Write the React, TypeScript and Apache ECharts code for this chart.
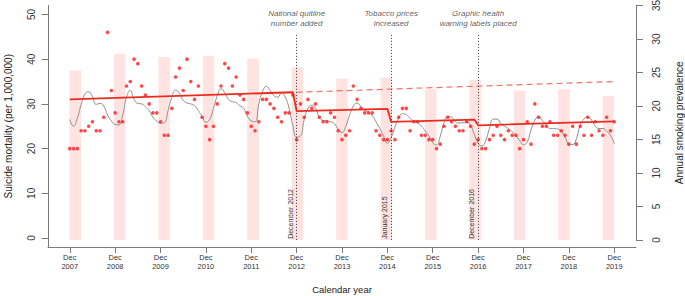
import React, { useEffect, useRef } from "react";
import * as echarts from "echarts";

// ---------- data ----------
const years = [2007, 2008, 2009, 2010, 2011, 2012, 2013, 2014, 2015, 2016, 2017, 2018, 2019];

// Annual smoking prevalence (right axis), one bar per year
const smokingPrevalence = [25.3, 27.8, 27.3, 27.5, 27.1, 25.8, 24.1, 24.2, 22.5, 23.9, 22.3, 22.5, 21.5];

// Monthly suicide mortality per 1,000,000, Dec 2007 .. Dec 2019 (145 months)
const suicideMonthly = [
  20, 20, 20, 24, 24, 25, 26, 24, 24, 27, 46, 33,
  28, 26, 26, 34, 35, 40, 39, 34, 32, 30, 28, 28,
  26, 23, 23, 29, 36, 38, 33, 40, 35, 31, 34, 27,
  25, 22, 25, 30, 34, 39, 38, 34, 36, 32, 31, 28,
  25, 24, 26, 31, 31, 30, 29, 27, 26, 28, 28, 32,
  22, 30, 27, 31, 29, 30, 27, 26, 26, 28, 27, 24,
  22, 23, 24, 34, 31, 29, 28, 28, 28, 24, 23, 22,
  22, 24, 22, 27, 29, 29, 24, 26, 26, 23, 23, 22,
  22, 20, 21, 25, 27, 26, 25, 24, 24, 26, 25, 21,
  22, 20, 20, 22, 23, 25, 23, 22, 24, 23, 23, 20,
  22, 26, 21, 30, 27, 25, 25, 26, 23, 23, 24, 23,
  21, 25, 21, 25, 23, 27, 23, 26, 24, 23, 27, 24, 26,
];

// Smoothed curve (grey), same months
const smoothCurve = [
  26.5, 25.0, 26.8, 29.8, 32.2, 32.7, 31.6, 29.9, 30.1, 29.5, 27.5, 26.2,
  25.4, 25.3, 27.5, 31.5, 33.0, 31.0, 30.1, 30.0, 29.4, 28.5, 27.0, 26.2,
  25.7, 25.8, 28.5, 31.5, 33.1, 32.4, 30.8, 30.2, 30.0, 29.6, 28.5, 27.2,
  25.9, 26.5, 29.0, 31.8, 33.4, 32.5, 31.0, 30.5, 30.3, 29.6, 29.0, 27.2,
  26.2, 26.0, 30.0, 32.8, 33.9, 33.0, 31.8, 31.5, 32.5, 31.5, 29.0, 25.2,
  22.6, 22.8, 26.5, 29.0, 29.7, 29.0, 27.0, 26.3, 26.2, 26.0, 25.6, 24.3,
  23.6, 25.0, 27.5, 29.5, 30.2, 29.4, 28.6, 28.2, 27.4, 26.0, 24.5, 22.8,
  21.2, 22.5, 24.8, 26.8, 27.8, 27.6, 26.8, 26.1, 25.8, 25.0, 24.0, 22.8,
  21.3, 20.8, 22.8, 25.8, 27.2, 27.0, 26.0, 25.7, 25.8, 25.9, 25.2, 23.2,
  21.2, 20.6, 21.8, 24.5, 26.6, 26.6, 25.6, 25.0, 24.5, 23.8, 23.0, 21.8,
  20.9, 21.5, 24.2, 26.3, 27.2, 26.3, 25.4, 24.5, 24.5, 24.4, 23.8, 22.6,
  21.0, 20.9, 22.2, 25.2, 26.6, 27.1, 26.4, 25.0, 24.5, 24.5, 23.9, 23.0, 21.1,
];

// Segmented regression fit: [month index, fitted value]
const segmentedFit = [
  [0, 31.0], [59, 32.6], [60, 28.4], [84, 28.9], [85, 26.0], [107, 26.5], [108, 25.2], [144, 26.1],
];
// Counterfactual (pre-intervention trend extended)
const counterfactual = [[60, 32.6], [144, 35.0]];

const interventionMonths = [60, 85, 108];
const interventionDates = ["December 2012", "January 2015", "December 2016"];
const interventionNotes = ["National quitline\nnumber added", "Tobacco prices\nincreased", "Graphic health\nwarning labels placed"];

const leftTicks = [0, 10, 20, 30, 40, 50];
const monthTicks = years.map((y) => (y - 2007) * 12);

// ---------- chart ----------
const FONT = "'Liberation Sans', Arial, Helvetica, sans-serif";
const AXIS_COLOR = "#7a7a7a";
const TEXT_COLOR = "#333";

export default function App() {
  const ref = useRef<HTMLDivElement>(null);

  useEffect(() => {
    if (!ref.current) return;
    const chart = echarts.init(ref.current, undefined, { renderer: "svg" });

    const xMin = -5.76;
    const xMax = 149.76;
    const barPos = (k: number) => 1.455 + 11.751 * k;
    const noteLevel = 49.1;
    const lineTop = 45.8;
    const lineBottom = -0.4;

    const markLineData: any[] = interventionMonths.map((m, i) => [
      {
        coord: [m, lineBottom],
        lineStyle: { type: [1, 2], color: "#333", width: 1 },
        label: {
          show: true,
          position: "insideStartTop",
          formatter: interventionDates[i],
          fontSize: 7,
          lineHeight: 7,
          color: TEXT_COLOR,
          fontFamily: FONT,
          distance: [1, 3],
        },
      },
      { coord: [m, lineTop] },
    ]);

    chart.setOption({
      animation: false,
      textStyle: { fontFamily: FONT },
      grid: [
        { left: 48, width: 588, top: 5.5, height: 241.5, outerBoundsMode: "none", containLabel: false },
        { left: 48, width: 588, top: 5.5, height: 234.5, outerBoundsMode: "none", containLabel: false },
      ],
      xAxis: [
        {
          type: "value",
          gridIndex: 0,
          min: xMin,
          max: xMax,
          position: "bottom",
          axisLine: { show: true, onZero: false, lineStyle: { color: AXIS_COLOR } },
          axisTick: { show: true, length: 6, customValues: monthTicks, lineStyle: { color: AXIS_COLOR } },
          axisLabel: {
            show: true,
            customValues: monthTicks,
            formatter: (v: number) => "Dec\n" + years[Math.round(v / 12)],
            fontSize: 7.5,
            lineHeight: 9,
            margin: 6,
            color: TEXT_COLOR,
            fontFamily: FONT,
          },
          splitLine: { show: false },
          name: "Calendar year",
          nameLocation: "middle",
          nameGap: 37,
          nameMoveOverlap: false,
          nameTextStyle: { fontSize: 9.5, color: "#222", fontFamily: FONT },
        },
        {
          type: "value",
          gridIndex: 1,
          min: xMin,
          max: xMax,
          show: false,
          axisLine: { show: false, onZero: false },
        },
      ],
      yAxis: [
        {
          type: "value",
          gridIndex: 0,
          position: "left",
          min: -2,
          max: 52,
          axisLine: { show: true, onZero: false, lineStyle: { color: AXIS_COLOR } },
          axisTick: { show: true, length: 6.5, customValues: leftTicks, lineStyle: { color: AXIS_COLOR } },
          axisLabel: {
            show: true,
            customValues: leftTicks,
            rotate: 90,
            margin: 17,
            align: "center",
            verticalAlign: "middle",
            fontSize: 10,
            color: TEXT_COLOR,
            fontFamily: FONT,
          },
          splitLine: { show: false },
          name: "Suicide mortality (per 1,000,000)",
          nameLocation: "middle",
          nameGap: 35,
          nameRotate: 90,
          nameMoveOverlap: false,
          nameTextStyle: { fontSize: 10, color: "#222", fontFamily: FONT },
        },
        {
          type: "value",
          gridIndex: 1,
          position: "right",
          min: 0,
          max: 35,
          interval: 5,
          axisLine: { show: true, onZero: false, lineStyle: { color: AXIS_COLOR } },
          axisTick: { show: true, length: 7, lineStyle: { color: AXIS_COLOR } },
          axisLabel: {
            show: true,
            rotate: 90,
            margin: 20,
            align: "center",
            verticalAlign: "middle",
            fontSize: 10,
            color: TEXT_COLOR,
            fontFamily: FONT,
          },
          splitLine: { show: false },
          name: "Annual smoking prevalence",
          nameLocation: "middle",
          nameGap: 38,
          nameRotate: 90,
          nameMoveOverlap: false,
          nameTextStyle: { fontSize: 10, color: "#222", fontFamily: FONT },
        },
      ],
      series: [
        {
          name: "Smoking prevalence",
          type: "bar",
          xAxisIndex: 1,
          yAxisIndex: 1,
          barWidth: 11.5,
          itemStyle: { color: "#ffe3e1" },
          data: smokingPrevalence.map((v, k) => [barPos(k), v]),
          z: 1,
        },
        {
          name: "Smoothed",
          type: "line",
          xAxisIndex: 0,
          yAxisIndex: 0,
          smooth: true,
          symbol: "none",
          lineStyle: { color: "#8f8f8f", width: 1 },
          data: smoothCurve.map((v, i) => [i, v]),
          z: 2,
        },
        {
          name: "Suicide mortality",
          type: "scatter",
          xAxisIndex: 0,
          yAxisIndex: 0,
          symbol: "circle",
          symbolSize: 3.6,
          itemStyle: { color: "#ff1c1c" },
          data: suicideMonthly.map((v, i) => [i, v]),
          z: 3,
        },
        {
          name: "Counterfactual",
          type: "line",
          xAxisIndex: 0,
          yAxisIndex: 0,
          symbol: "none",
          lineStyle: { color: "#f07468", width: 1.2, type: [6, 4] },
          data: counterfactual,
          z: 4,
        },
        {
          name: "Segmented fit",
          type: "line",
          xAxisIndex: 0,
          yAxisIndex: 0,
          symbol: "none",
          lineStyle: { color: "#ee2b1e", width: 1.8 },
          data: segmentedFit,
          z: 5,
          markLine: {
            silent: true,
            symbol: ["none", "none"],
            animation: false,
            data: markLineData,
          },
        },
        {
          name: "Interventions",
          type: "scatter",
          xAxisIndex: 0,
          yAxisIndex: 0,
          symbolSize: 1,
          silent: true,
          itemStyle: { color: "rgba(255,255,255,0)" },
          data: interventionMonths.map((m, i) => ({ value: [m, noteLevel], name: interventionNotes[i] })),
          label: {
            show: true,
            position: "inside",
            formatter: "{b}",
            fontSize: 8,
            lineHeight: 10,
            fontStyle: "italic",
            color: TEXT_COLOR,
            fontFamily: FONT,
          },
          z: 6,
        },
      ],
    });

    return () => chart.dispose();
  }, []);

  return (
    <div
      ref={ref}
      style={{ position: "absolute", left: 0, top: 0, width: 685, height: 296, background: "#fff" }}
    />
  );
}
